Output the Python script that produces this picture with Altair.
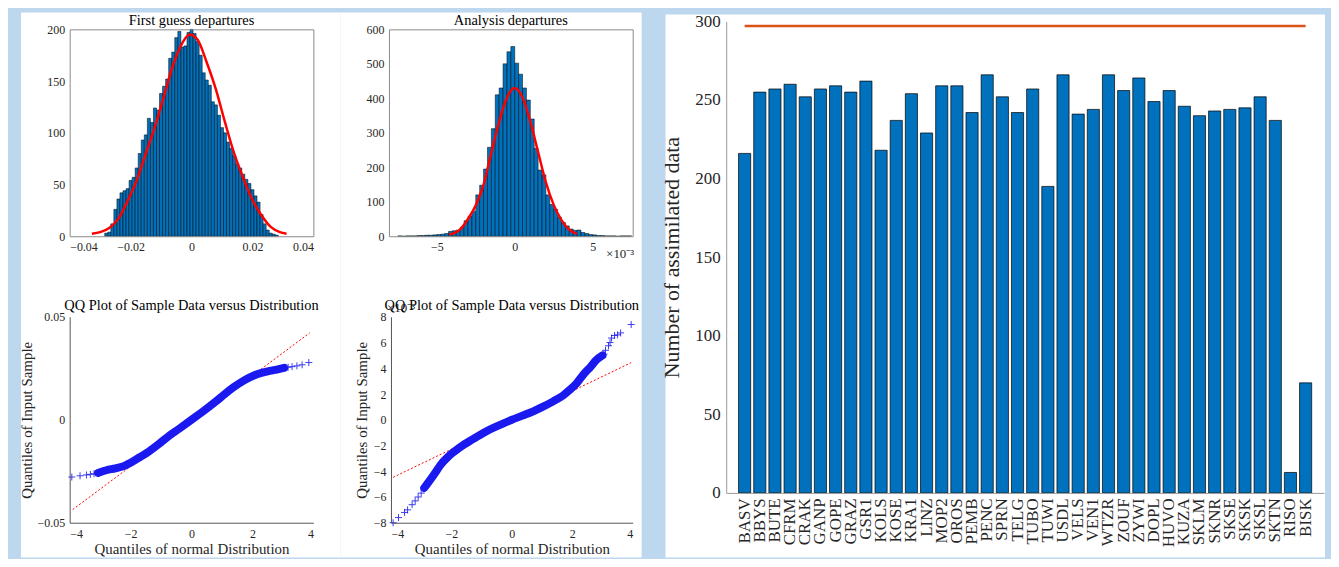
import altair as alt
import pandas as pd

FONT = "Liberation Serif"
PAGE_BG = "#BDD7EE"
BAR_BLUE = "#0072BD"
TXT = "#262626"
HIST_AX = "#8a8a8a"
QQ_AX = "#555555"
BAR_AX = "#999999"
QQ_BLUE = "#1A1AF0"
PLUS = "M-1,0L1,0M0,-1L0,1"

# ---------------- First guess departures: histogram + fitted normal ----------------
fg_bin_first = -0.0285
fg_bin_width = 0.001
fg_counts = [3, 4, 12, 26, 36, 42, 44, 46, 54, 57, 66, 80, 93, 98, 114, 110, 124, 122, 138, 145,
             152, 172, 178, 192, 198, 183, 184, 197, 200, 196, 188, 175, 158, 151, 146, 130, 127, 117,
             105, 100, 91, 85, 78, 70, 66, 60, 55, 51, 45, 39, 33, 21, 12, 6, 3, 2, 1]
fg_fit_x = [-0.0327, -0.030, -0.027, -0.024, -0.021, -0.018, -0.015, -0.012, -0.009, -0.006, -0.003,
            -0.0006, 0.002, 0.005, 0.008, 0.011, 0.014, 0.017, 0.020, 0.023, 0.026, 0.029, 0.0312]
fg_fit_y = [2.5, 4, 8, 17, 34, 54, 80, 106, 136, 166, 187, 195, 190, 168, 142, 110, 80, 56, 35, 20, 9, 4, 2.5]

# ---------------- Analysis departures (x 1e-3) ----------------
an_bin_first = -7.5
an_bin_width = 0.25
an_counts = [1, 0, 1, 1, 1, 2, 2, 3, 3, 4, 5, 6, 8, 14, 16, 18, 26, 45, 58, 72, 120, 148, 195, 258, 312,
             410, 430, 500, 535, 550, 502, 470, 430, 395, 340, 255, 192, 178, 120, 92, 78, 55, 40, 30, 21,
             17, 18, 11, 8, 5, 4, 2, 2, 1, 1, 1, 0, 1, 1, 1]
an_fit_x = [-4.2, -3.5, -3, -2.5, -2, -1.5, -1, -0.5, 0, 0.5, 1, 1.5, 2, 2.5, 3, 3.5, 4.0]
an_fit_y = [5, 20, 50, 90, 150, 243, 332, 402, 430, 403, 333, 244, 156, 91, 47, 19, 7]

# ---------------- QQ plot 1 ----------------
qq1_band_x = [-3.07, -2.8, -2.5, -2.2, -2.0, -1.7, -1.4, -1.1, -0.8, -0.4, 0, 0.4, 0.8, 1.1, 1.4, 1.7,
              2.0, 2.2, 2.5, 2.8, 3.04]
qq1_band_y = [-0.0258, -0.0245, -0.0236, -0.0224, -0.0209, -0.0182, -0.0154, -0.0121, -0.0085, -0.0043,
              0, 0.0043, 0.0089, 0.0126, 0.016, 0.0189, 0.0212, 0.0224, 0.0235, 0.0244, 0.0252]
qq1_tail_x = [-3.93, -3.66, -3.45, -3.32, -3.2, -3.07, 3.04, 3.17, 3.3, 3.46, 3.63, 3.85]
qq1_tail_y = [-0.0278, -0.0272, -0.0268, -0.0265, -0.0262, -0.0258, 0.0252, 0.0255, 0.0258, 0.0262,
              0.0267, 0.0278]
qq1_ref_x = [-3.9, 3.88]
qq1_ref_y = [-0.0436, 0.0422]

# ---------------- QQ plot 2 (x 1e-3) ----------------
qq2_band_x = [-2.9, -2.72, -2.5, -2.38, -2.1, -1.94, -1.6, -1.39, -1.0, -0.73, -0.35, 0, 0.35, 0.71,
              1.0, 1.37, 1.7, 1.92, 2.15, 2.36, 2.6, 2.8, 3.0]
qq2_band_y = [-5.3, -4.73, -4.0, -3.57, -2.85, -2.54, -1.95, -1.65, -1.1, -0.75, -0.35, 0, 0.32, 0.66,
              0.98, 1.43, 1.9, 2.33, 2.85, 3.49, 4.1, 4.65, 5.0]
qq2_tail_x = [-3.93, -3.75, -3.55, -3.45, -3.3, -3.2, -3.1, -3.0, 3.05, 3.1, 3.2, 3.25, 3.3, 3.4, 3.5,
              3.6, 3.95]
qq2_tail_y = [-8.0, -7.6, -7.2, -7.0, -6.6, -6.3, -6.0, -5.7, 5.1, 5.4, 5.75, 6.0, 6.35, 6.55, 6.6,
              6.75, 7.4]
qq2_ref_x = [-3.93, 3.95]
qq2_ref_y = [-4.47, 4.44]

# ---------------- Assimilated data per station ----------------
stations = ["BASV", "BBYS", "BUTE", "CFRM", "CRAK", "GANP", "GOPE", "GRAZ", "GSR1", "KOLS", "KOSE",
            "KRA1", "LINZ", "MOP2", "OROS", "PEMB", "PENC", "SPRN", "TELG", "TUBO", "TUWI", "USDL",
            "VELS", "VEN1", "WTZR", "ZOUF", "ZYWI", "DOPL", "HUVO", "KUZA", "SKLM", "SKNR", "SKSE",
            "SKSK", "SKSL", "SKTN", "RISO", "BISK"]
assimilated = [216, 255, 257, 260, 252, 257, 259, 255, 262, 218, 237, 254, 229, 259, 259, 242, 266,
               252, 242, 257, 195, 266, 241, 244, 266, 256, 264, 249, 256, 246, 240, 243, 244, 245,
               252, 237, 13, 70]
total_stations = ["BASV", "BISK"]
total_values = [297, 297]

# ---------------- frames ----------------
fg_df = pd.DataFrame({
    "lo": [fg_bin_first + i * fg_bin_width for i in range(len(fg_counts))],
    "hi": [fg_bin_first + (i + 1) * fg_bin_width for i in range(len(fg_counts))],
    "count": fg_counts})
fg_fit_df = pd.DataFrame({"x": fg_fit_x, "y": fg_fit_y})
an_df = pd.DataFrame({
    "lo": [an_bin_first + i * an_bin_width for i in range(len(an_counts))],
    "hi": [an_bin_first + (i + 1) * an_bin_width for i in range(len(an_counts))],
    "count": an_counts})
an_fit_df = pd.DataFrame({"x": an_fit_x, "y": an_fit_y})
q1_band = pd.DataFrame({"x": qq1_band_x, "y": qq1_band_y})
q1_tail = pd.DataFrame({"x": qq1_tail_x, "y": qq1_tail_y})
q1_ref = pd.DataFrame({"x": qq1_ref_x, "y": qq1_ref_y})
q2_band = pd.DataFrame({"x": qq2_band_x, "y": qq2_band_y})
q2_tail = pd.DataFrame({"x": qq2_tail_x, "y": qq2_tail_y})
q2_ref = pd.DataFrame({"x": qq2_ref_x, "y": qq2_ref_y})
bar_df = pd.DataFrame({"station": stations, "n": assimilated})
tot_df = pd.DataFrame({"station": total_stations, "n": total_values})


def panel(x1, x2, y1, y2):
    """white figure panel behind one subplot"""
    return alt.Chart(alt.Data(values=[{"p": 1}])).mark_rect(color="white").encode(
        x=alt.value(x1), x2=alt.value(x2), y=alt.value(y1), y2=alt.value(y2))


def ttl(text, offset, size=14.5):
    return alt.TitleParams(text=text, font=FONT, fontSize=size, fontWeight="normal", color="black",
                           frame="group", anchor="middle", baseline="alphabetic", offset=offset,
                           zindex=1)


def ax(**kw):
    base = dict(zindex=1, ticks=False, grid=False, labelFont=FONT, titleFont=FONT, labelColor=TXT,
                titleColor=TXT, labelFontSize=12, titleFontSize=15, titleFontWeight="normal",
                domainWidth=1)
    base.update(kw)
    return alt.Axis(**base)


# ---------------- histogram 1 ----------------
fg_xs = alt.Scale(domain=[-0.04, 0.04], nice=False, zero=False)
fg_ys = alt.Scale(domain=[0, 200], nice=False)
h1_bars = alt.Chart(fg_df).mark_rect(color=BAR_BLUE, stroke="black", strokeWidth=0.5).encode(
    x=alt.X("lo:Q", scale=fg_xs, axis=ax(values=[-0.04, -0.02, 0, 0.02, 0.04], format="~g",
                                          title=None, labelPadding=5, domainColor=HIST_AX)),
    x2="hi:Q",
    y=alt.Y("count:Q", scale=fg_ys, axis=ax(values=[0, 50, 100, 150, 200], title=None,
                                             labelPadding=5, domainColor=HIST_AX)))
h1_fit = alt.Chart(fg_fit_df).mark_line(color="#FF0000", strokeWidth=2.5, interpolate="monotone").encode(
    x=alt.X("x:Q", scale=fg_xs, axis=ax(orient="top", labels=False, title=None, domainColor=HIST_AX)),
    y=alt.Y("y:Q", scale=fg_ys, axis=ax(orient="right", labels=False, title=None, domainColor=HIST_AX)))
h1 = alt.layer(panel(-49, 272, -17, 262), h1_bars, h1_fit).resolve_axis(
    x="independent", y="independent").properties(width=245, height=208,
                                                  title=ttl("First guess departures", -27))

# ---------------- histogram 2 ----------------
an_xs = alt.Scale(domain=[-8.07, 7.57], nice=False, zero=False)
an_ys = alt.Scale(domain=[0, 600], nice=False)
h2_bars = alt.Chart(an_df).mark_rect(color=BAR_BLUE, stroke="black", strokeWidth=0.5).encode(
    x=alt.X("lo:Q", scale=an_xs, axis=ax(values=[-5, 0, 5], title="×10⁻³", titleX=246, titleY=21,
                                          titleAlign="right", titleBaseline="alphabetic",
                                          titleFontSize=13, titleAngle=0,
                                          labelPadding=5, domainColor=HIST_AX)),
    x2="hi:Q",
    y=alt.Y("count:Q", scale=an_ys, axis=ax(values=[0, 100, 200, 300, 400, 500, 600], title=None,
                                             labelPadding=5, domainColor=HIST_AX)))
h2_fit = alt.Chart(an_fit_df).mark_line(color="#FF0000", strokeWidth=2.5, interpolate="monotone").encode(
    x=alt.X("x:Q", scale=an_xs, axis=ax(orient="top", labels=False, title=None, domainColor=HIST_AX)),
    y=alt.Y("y:Q", scale=an_ys, axis=ax(orient="right", labels=False, title=None, domainColor=HIST_AX)))
h2 = alt.layer(panel(-49, 254, -17, 262), h2_bars, h2_fit).resolve_axis(
    x="independent", y="independent").properties(width=245, height=208,
                                                  title=ttl("Analysis departures", -27))

# ---------------- QQ plot 1 ----------------
QQ_TITLE = "QQ Plot of Sample Data versus Distribution"
q1x = alt.X("x:Q", scale=alt.Scale(domain=[-4, 4], nice=False, zero=False),
            axis=ax(values=[-4, -2, 0, 2, 4], title="Quantiles of normal Distribution",
                    labelPadding=6, titlePadding=2, domainColor=QQ_AX))
q1y = alt.Y("y:Q", scale=alt.Scale(domain=[-0.05, 0.05], nice=False, zero=False),
            axis=ax(values=[-0.05, 0, 0.05], format="~g", title="Quantiles of Input Sample",
                    labelPadding=5, titlePadding=3, domainColor=QQ_AX))
q1 = alt.layer(
    panel(-49, 272, -27, 242),
    alt.Chart(q1_ref).mark_line(color="#FF0000", strokeWidth=1, strokeDash=[2, 2]).encode(x=q1x, y=q1y),
    alt.Chart(q1_band).mark_line(color=QQ_BLUE, strokeWidth=8, interpolate="monotone",
                                 strokeCap="round").encode(x=q1x, y=q1y),
    alt.Chart(q1_tail).mark_point(shape=PLUS, size=49, filled=False, color=QQ_BLUE, strokeWidth=1,
                                  opacity=0.85).encode(x=q1x, y=q1y),
).properties(width=245, height=207, title=ttl(QQ_TITLE, -35))

# ---------------- QQ plot 2 ----------------
q2x = alt.X("x:Q", scale=alt.Scale(domain=[-4, 4], nice=False, zero=False),
            axis=ax(values=[-4, -2, 0, 2, 4], title="Quantiles of normal Distribution",
                    labelPadding=6, titlePadding=2, domainColor=QQ_AX))
q2y = alt.Y("y:Q", scale=alt.Scale(domain=[-8, 8], nice=False, zero=False),
            axis=ax(values=[-8, -6, -4, -2, 0, 2, 4, 6, 8], title="Quantiles of Input Sample",
                    labelPadding=5, titlePadding=4, domainColor=QQ_AX))
q2 = alt.layer(
    panel(-51, 252, -27, 242),
    alt.Chart(q2_ref).mark_line(color="#FF0000", strokeWidth=1, strokeDash=[2, 2]).encode(x=q2x, y=q2y),
    alt.Chart(q2_band).mark_line(color=QQ_BLUE, strokeWidth=8, interpolate="monotone",
                                 strokeCap="round").encode(x=q2x, y=q2y),
    alt.Chart(q2_tail).mark_point(shape=PLUS, size=49, filled=False, color=QQ_BLUE, strokeWidth=1,
                                  opacity=0.85).encode(x=q2x, y=q2y),
    alt.Chart(alt.Data(values=[{"p": 1}])).mark_text(text="×10⁻³", align="left", baseline="alphabetic",
                                                    font=FONT, fontSize=13, color=TXT).encode(
        x=alt.value(-4), y=alt.value(-5)),
).properties(width=243, height=207, title=ttl(QQ_TITLE, -35))

# ---------------- bar chart ----------------
bx = alt.X("station:N", sort=stations, scale=alt.Scale(paddingInner=0.2, paddingOuter=0.815),
           axis=ax(labelAngle=-90, labelFontSize=17, labelPadding=5, title=None,
                   domainColor=BAR_AX))
by = alt.Y("n:Q", scale=alt.Scale(domain=[0, 300], nice=False),
           axis=ax(values=[0, 50, 100, 150, 200, 250, 300], labelFontSize=17, labelPadding=6,
                   title="Number of assimilated data", titleFontSize=22, titlePadding=11,
                   domainColor=BAR_AX))
right = alt.layer(
    panel(-61, 602, -7, 539),
    alt.Chart(bar_df).mark_bar(color=BAR_BLUE, stroke="black", strokeWidth=0.7).encode(x=bx, y=by),
    alt.Chart(tot_df).mark_line(color="#D95319", strokeWidth=2.5).encode(x=bx, y=by),
).properties(width=601, height=474)

# invisible 1px cell that lets the left figure sit lower than the right one
spacer = alt.Chart(alt.Data(values=[{"p": 1}])).mark_rect(opacity=0).encode(
    x=alt.value(0), x2=alt.value(1), y=alt.value(0), y2=alt.value(1)).properties(width=1, height=1)

grid4 = alt.vconcat(alt.hconcat(h1, h2, spacing=0), alt.hconcat(q1, q2, spacing=0), spacing=0)
left = alt.vconcat(spacer, grid4, spacing=-10)

chart = alt.hconcat(left, right, spacing=19).properties(
    background=PAGE_BG,
    padding={"left": 11, "top": 3, "right": 6, "bottom": 0},
).configure(font=FONT).configure_view(strokeWidth=0)

chart.save("out.html", embed_options={"renderer": "svg", "actions": False})
